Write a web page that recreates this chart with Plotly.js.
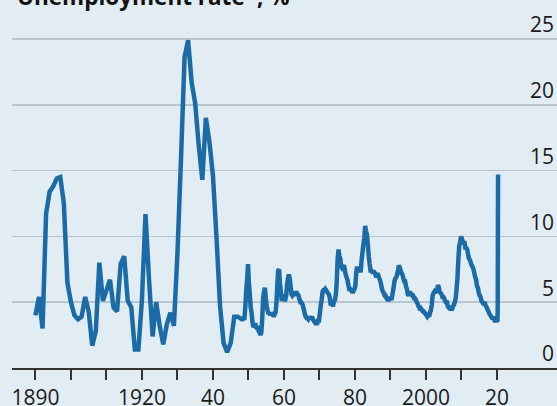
<!DOCTYPE html>
<html>
<head>
<meta charset="utf-8">
<script src="https://cdn.plot.ly/plotly-3.0.1.min.js"></script>
<style>html,body{margin:0;padding:0;background:#e2ecf3;}#chart{width:557px;height:406px;}</style>
</head>
<body>
<div id="chart"></div>
<script>
// Annual unemployment rate, %, 1890-1947
const annualStartYear = 1890;
const annualValues = [
  4.0, 5.4, 3.0, 11.7, 13.4, 13.8, 14.4, 14.5, 12.5, 6.5,
  5.0, 4.0, 3.7, 3.9, 5.4, 4.3, 1.7, 2.8, 8.0, 5.1,
  5.9, 6.7, 4.6, 4.3, 7.9, 8.5, 5.1, 4.6, 1.4, 1.4,
  5.2, 11.7, 6.7, 2.4, 5.0, 3.2, 1.8, 3.3, 4.2, 3.2,
  8.7, 15.9, 23.6, 24.9, 21.7, 20.1, 16.9, 14.3, 19.0, 17.2,
  14.6, 9.9, 4.7, 1.9, 1.2, 1.9, 3.9, 3.9
];
// Quarterly unemployment rate, %, 1948 Q1 - 2019 Q4
const quarterlyStartYear = 1948;
const quarterlyValues = [
  3.7,3.7,3.8,3.8, 4.7,5.9,6.7,7.9, 6.4,5.6,4.6,4.2, 3.5,3.1,3.2,3.4, 3.1,3.0,3.2,2.8,
  2.7,2.5,2.7,3.7, 5.3,5.8,6.1,5.3, 4.7,4.4,4.1,4.2, 4.0,4.2,4.1,4.1, 3.9,4.1,4.2,4.9,
  6.3,7.4,7.5,6.4, 5.8,5.1,5.3,5.6, 5.1,5.2,5.5,6.3, 6.8,7.1,6.8,6.2, 5.6,5.5,5.6,5.5,
  5.8,5.7,5.5,5.6, 5.5,5.2,5.0,5.0, 4.9,4.7,4.4,4.1, 3.9,3.8,3.8,3.7, 3.8,3.8,3.8,3.9,
  3.7,3.6,3.5,3.4, 3.4,3.4,3.6,3.6, 4.2,4.8,5.2,5.8, 5.9,5.9,6.0,5.9, 5.8,5.7,5.6,5.4,
  4.9,4.9,4.8,4.8, 5.1,5.2,5.6,6.6, 8.3,9.0,8.5,8.3, 7.7,7.6,7.7,7.8, 7.5,7.1,6.9,6.7,
  6.3,6.0,6.0,5.9, 5.9,5.7,5.9,6.0, 6.3,7.3,7.7,7.4, 7.4,7.4,7.4,8.2, 8.8,9.4,9.9,10.8,
  10.4,10.1,9.4,8.5, 7.9,7.4,7.4,7.3, 7.3,7.3,7.2,7.0, 7.0,7.2,7.0,6.8, 6.6,6.3,6.0,5.8,
  5.7,5.5,5.5,5.3, 5.2,5.2,5.2,5.4, 5.3,5.3,5.7,6.1, 6.6,6.8,6.9,7.1, 7.4,7.8,7.6,7.4,
  7.2,7.1,6.8,6.6, 6.6,6.2,6.0,5.6, 5.5,5.7,5.7,5.6, 5.5,5.5,5.3,5.3, 5.2,5.0,4.9,4.7,
  4.6,4.4,4.5,4.4, 4.3,4.3,4.2,4.1, 4.0,3.9,4.0,3.9, 4.2,4.4,4.8,5.5, 5.7,5.8,5.7,5.9,
  5.9,6.3,6.1,5.8, 5.7,5.6,5.4,5.4, 5.3,5.1,5.0,5.0, 4.7,4.6,4.6,4.4, 4.5,4.5,4.7,4.8,
  5.0,5.3,6.0,6.9, 8.3,9.3,9.6,10.0, 9.8,9.6,9.5,9.5, 9.0,9.1,9.0,8.6, 8.3,8.2,8.0,7.8,
  7.7,7.5,7.2,6.9, 6.7,6.2,6.1,5.7, 5.5,5.4,5.1,5.0, 4.9,4.9,4.9,4.7, 4.6,4.4,4.3,4.1,
  4.0,3.9,3.8,3.8, 3.9,3.6,3.6,3.6
];
// 2020 monthly readings
const recentDates = [2020.1, 2020.2, 2020.3];
const recentValues = [3.5, 4.4, 14.7];

const tickYears = [1890,1900,1910,1920,1930,1940,1950,1960,1970,1980,1990,2000,2010,2020];
const tickLabels = ['1890','','','1920','','40','','60','','80','','2000','','20'];
const yTicks = [0,5,10,15,20,25];

const xs = [], ys = [];
annualValues.forEach((v,i)=>{ xs.push(annualStartYear + i); ys.push(v); });
quarterlyValues.forEach((v,i)=>{ xs.push(quarterlyStartYear + (i+0.5)/4); ys.push(v); });
recentDates.forEach((d,i)=>{ xs.push(d); ys.push(recentValues[i]); });

const bg = '#e2ecf3';
const fontFam = 'Open Sans, Roboto, sans-serif';
Plotly.newPlot('chart', [{
  x: xs, y: ys, type: 'scatter', mode: 'lines',
  line: {color: '#1b6ca6', width: 4.5, simplify: false},
  hoverinfo: 'skip'
}], {
  width: 557, height: 406,
  paper_bgcolor: bg, plot_bgcolor: bg,
  margin: {l: 12, r: 0, t: 10, b: 38},
  showlegend: false,
  annotations: [{
    text: '<b>Unemployment rate*, %</b>',
    font: {family: fontFam, size: 22.5, color: '#111'},
    xref: 'paper', x: 4/545, xanchor: 'left',
    yref: 'paper', y: 1 + 13/358, yanchor: 'middle',
    showarrow: false, borderpad: 0
  }],
  xaxis: {
    range: [1883.4, 2036.9],
    tickmode: 'array', tickvals: tickYears, ticktext: tickLabels,
    ticks: 'outside', ticklen: 10, tickwidth: 2, tickcolor: '#333',
    showline: true, linecolor: '#333', linewidth: 2,
    showgrid: false, zeroline: false,
    tickfont: {family: fontFam, size: 21, color: '#1a1a1a'}
  },
  yaxis: {
    range: [0, 27.2],
    tickmode: 'array', tickvals: yTicks,
    side: 'right', ticklabelposition: 'inside', ticklabelshift: -14,
    ticks: '', showline: false, zeroline: false,
    showgrid: true, gridcolor: '#b9c5ce', gridwidth: 1.5,
    tickfont: {family: fontFam, size: 21, color: '#1a1a1a'}
  }
}, {staticPlot: true, displayModeBar: false});
</script>
</body>
</html>
